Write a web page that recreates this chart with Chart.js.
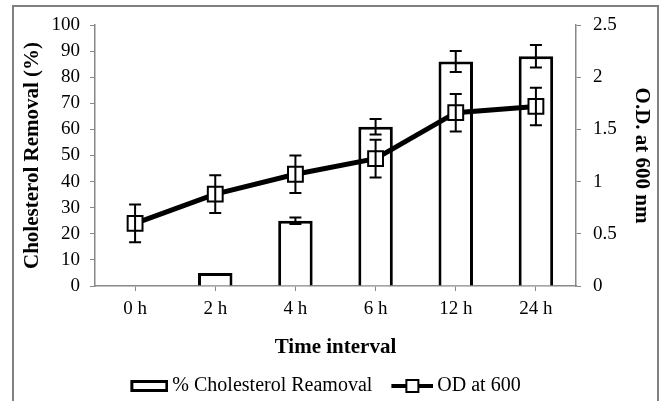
<!DOCTYPE html>
<html>
<head>
<meta charset="utf-8">
<script src="https://cdn.jsdelivr.net/npm/chart.js@4"></script>
<style>
  html, body { margin: 0; padding: 0; background: #fff; }
  #wrap { width: 662px; height: 401px; }
</style>
</head>
<body>
<div id="wrap"><canvas id="chart-area"></canvas></div>
<script>
// values
var categories = ['0 h', '2 h', '4 h', '6 h', '12 h', '24 h'];
var removal = [0, 5, 25, 61, 86, 88];
var removalErr = [0, 0, 1.2, 3, 4, 4.3];
var od = [0.6, 0.88, 1.07, 1.22, 1.66, 1.72];
var odErr = [0.18, 0.18, 0.18, 0.18, 0.18, 0.18];

var serif = "'Liberation Serif', 'Times New Roman', serif";

// legend icons: canvas is 12px wider than the legend box, content sits at the right end
function barIcon() {
    var c = document.createElement('canvas');
    c.width = 59; c.height = 12;
    var g = c.getContext('2d');
    g.fillStyle = '#fff';
    g.strokeStyle = '#000';
    g.lineWidth = 3;
    g.fillRect(22.5, 1.5, 35, 9);
    g.strokeRect(22.5, 1.5, 35, 9);
    return c;
}
function lineIcon() {
    var c = document.createElement('canvas');
    c.width = 59; c.height = 14;
    var g = c.getContext('2d');
    g.strokeStyle = '#000';
    g.lineWidth = 4;
    g.beginPath(); g.moveTo(17, 7); g.lineTo(59, 7); g.stroke();
    g.fillStyle = '#fff';
    g.lineWidth = 2;
    g.fillRect(32, 1, 12, 12);
    g.strokeRect(32, 1, 12, 12);
    return c;
}

// error bars drawn through the scales
var errorBars = {
    id: 'errorBars',
    afterDatasetsDraw: function (chart) {
        var ctx = chart.ctx;
        chart.data.datasets.forEach(function (ds, di) {
            if (!ds.errors) return;
            var meta = chart.getDatasetMeta(di);
            var scale = chart.scales[ds.yAxisID];
            ctx.save();
            ctx.strokeStyle = '#000';
            ctx.lineWidth = 2;
            meta.data.forEach(function (el, i) {
                var e = ds.errors[i];
                if (!e) return;
                var x = el.x;
                var top = scale.getPixelForValue(ds.data[i] + e);
                var bot = scale.getPixelForValue(ds.data[i] - e);
                ctx.beginPath();
                ctx.moveTo(x, top); ctx.lineTo(x, bot);
                ctx.moveTo(x - 6, top); ctx.lineTo(x + 6, top);
                ctx.moveTo(x - 6, bot); ctx.lineTo(x + 6, bot);
                ctx.stroke();
            });
            ctx.restore();
        });
    }
};

// grey frame around the figure, legend nudged a bit left like the original
var frame = {
    id: 'frame',
    afterLayout: function (chart) {
        chart.legend.left -= 19;
        chart.legend.right -= 19;
    },
    beforeDraw: function (chart) {
        var ctx = chart.ctx;
        ctx.save();
        ctx.strokeStyle = '#808080';
        ctx.lineWidth = 2;
        ctx.beginPath();
        ctx.moveTo(13, 410); ctx.lineTo(13, 6); ctx.lineTo(658, 6); ctx.lineTo(658, 410);
        ctx.stroke();
        ctx.restore();
    }
};

var config = {
    type: 'bar',
    data: {
        labels: categories,
        datasets: [{
            type: 'bar',
            label: '% Cholesterol Reamoval',
            data: removal,
            errors: removalErr,
            yAxisID: 'y',
            backgroundColor: '#fff',
            borderColor: '#000',
            borderWidth: 3,
            barPercentage: 0.43,
            categoryPercentage: 1,
            order: 2
        }, {
            type: 'line',
            label: 'OD at 600',
            data: od,
            errors: odErr,
            yAxisID: 'y1',
            borderColor: '#000',
            borderWidth: 5,
            pointStyle: 'rect',
            pointRadius: 10.5,
            pointBorderWidth: 2,
            pointBackgroundColor: '#fff',
            pointBorderColor: '#000',
            order: 1
        }]
    },
    options: {
        responsive: false,
        animation: false,
        layout: { padding: { left: 16, right: 4, top: 25, bottom: -5 } },
        plugins: {
            tooltip: { enabled: false },
            legend: {
                position: 'bottom',
                labels: {
                    color: '#000',
                    font: { family: serif, size: 20 },
                    usePointStyle: true,
                    pointStyleWidth: 47,
                    padding: 8,
                    generateLabels: function (chart) {
                        var items = Chart.defaults.plugins.legend.labels.generateLabels(chart);
                        items.sort(function (a, b) { return a.datasetIndex - b.datasetIndex; });
                        items.forEach(function (it) {
                            it.pointStyle = it.datasetIndex === 0 ? barIcon() : lineIcon();
                        });
                        return items;
                    }
                }
            }
        },
        scales: {
            x: {
                offset: true,
                grid: { offset: false, drawOnChartArea: false, color: '#888', tickLength: 5 },
                border: { color: '#888', width: 1.5 },
                ticks: { color: '#000', font: { family: serif, size: 19 }, padding: 7 },
                title: { display: true, text: 'Time interval', color: '#000',
                    font: { family: serif, size: 21, weight: 'bold' }, padding: { top: 7, bottom: 8 } }
            },
            y: {
                position: 'left',
                min: 0, max: 100,
                ticks: { stepSize: 10, color: '#000', font: { family: serif, size: 19 }, padding: 10 },
                grid: { drawOnChartArea: false, color: '#888', tickLength: 5 },
                border: { color: '#888', width: 1.5 },
                title: { display: true, text: 'Cholesterol Removal (%)', color: '#000',
                    font: { family: serif, size: 21, weight: 'bold' } },
                afterFit: function (s) { s.width = 79; }
            },
            y1: {
                position: 'right',
                min: 0, max: 2.5,
                ticks: {
                    stepSize: 0.5, color: '#000', font: { family: serif, size: 19 }, padding: 12,
                    callback: function (v) { return String(v); }
                },
                grid: { drawOnChartArea: false, color: '#888', tickLength: 5 },
                border: { color: '#888', width: 1.5 },
                title: { display: true, text: 'O.D. at 600 nm', color: '#000',
                    font: { family: serif, size: 21, weight: 'bold' } },
                afterFit: function (s) { s.width = 82; }
            }
        }
    },
    plugins: [errorBars, frame]
};

var ctx = document.getElementById('chart-area');
ctx.width = 662; ctx.height = 401;
new Chart(ctx, config);
</script>
</body>
</html>
